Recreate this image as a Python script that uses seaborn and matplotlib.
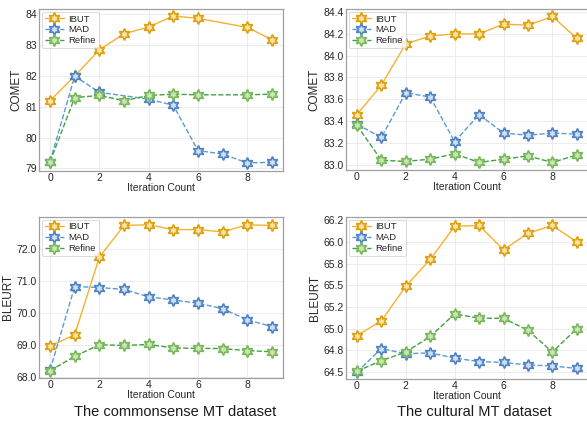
import matplotlib
matplotlib.use("Agg")
import matplotlib.pyplot as plt
import pandas as pd
import seaborn as sns

sns.set_theme(style="whitegrid")
plt.rcParams["font.family"] = ["Liberation Sans", "DejaVu Sans"]

# iteration indices (some series skip a step)
iters_full = [0, 1, 2, 3, 4, 5, 6, 7, 8, 9]
iters_no7 = [0, 1, 2, 3, 4, 5, 6, 8, 9]
iters_no3 = [0, 1, 2, 4, 5, 6, 7, 8, 9]

# commonsense MT - COMET
cs_comet_ibut = [81.2, 82.0, 82.85, 83.37, 83.59, 83.95, 83.87, 83.58, 83.18]
cs_comet_mad = [79.22, 82.0, 81.47, 81.25, 81.05, 79.58, 79.47, 79.18, 79.2]
cs_comet_refine = [79.22, 81.3, 81.37, 81.2, 81.37, 81.41, 81.39, 81.39, 81.41]

# cultural MT - COMET
cu_comet_ibut = [83.46, 83.73, 84.11, 84.18, 84.2, 84.2, 84.29, 84.28, 84.36, 84.16]
cu_comet_mad = [83.37, 83.25, 83.66, 83.62, 83.21, 83.46, 83.29, 83.27, 83.29, 83.28]
cu_comet_refine = [83.36, 83.04, 83.03, 83.05, 83.1, 83.02, 83.05, 83.08, 83.02, 83.09]

# commonsense MT - BLEURT
cs_bleurt_ibut = [68.97, 69.34, 71.76, 72.75, 72.77, 72.62, 72.62, 72.55, 72.77, 72.75]
cs_bleurt_mad = [68.23, 70.84, 70.81, 70.75, 70.52, 70.42, 70.32, 70.15, 69.8, 69.59]
cs_bleurt_refine = [68.21, 68.66, 69.02, 69.0, 69.03, 68.92, 68.91, 68.9, 68.84, 68.8]

# cultural MT - BLEURT
cu_bleurt_ibut = [64.92, 65.09, 65.49, 65.8, 66.18, 66.19, 65.91, 66.1, 66.19, 66.0]
cu_bleurt_mad = [64.5, 64.77, 64.71, 64.72, 64.66, 64.62, 64.61, 64.58, 64.57, 64.54]
cu_bleurt_refine = [64.51, 64.63, 64.73, 64.91, 65.17, 65.12, 65.12, 64.98, 64.73, 65.0]

# y tick positions per panel
cs_comet_ticks = [79, 80, 81, 82, 83, 84]
cu_comet_ticks = [83.0, 83.2, 83.4, 83.6, 83.8, 84.0, 84.2, 84.4]
cs_bleurt_ticks = [68.0, 69.0, 70.0, 71.0, 72.0]
cu_bleurt_ticks = [64.5, 64.75, 65.0, 65.25, 65.5, 65.75, 66.0, 66.25]

methods = ["IBUT", "MAD", "Refine"]
styles = {
    "IBUT": dict(color="#f7b12f", ls="-", mfc="#fde3a7", mec="#dca00e"),
    "MAD": dict(color="#5b9bd5", ls="--", mfc="#cfe0f5", mec="#4f81c4"),
    "Refine": dict(color="#3fa33f", ls="--", mfc="#c9e4b8", mec="#79b85a"),
}
star6 = (6, 1, 0)

panels = [
    ([0.0664, 0.594, 0.4157, 0.385], "COMET",
     [(iters_no7, cs_comet_ibut), (iters_no3, cs_comet_mad), (iters_no7, cs_comet_refine)],
     "%d", cs_comet_ticks, (78.92, 84.18)),
    ([0.5894, 0.596, 0.412, 0.383], "COMET",
     [(iters_full, cu_comet_ibut), (iters_full, cu_comet_mad), (iters_full, cu_comet_refine)],
     "%.1f", cu_comet_ticks, (82.95, 84.43)),
    ([0.0664, 0.102, 0.4157, 0.383], "BLEURT",
     [(iters_full, cs_bleurt_ibut), (iters_full, cs_bleurt_mad), (iters_full, cs_bleurt_refine)],
     "%.1f", cs_bleurt_ticks, (67.98, 73.02)),
    ([0.5894, 0.100, 0.412, 0.385], "BLEURT",
     [(iters_full, cu_bleurt_ibut), (iters_full, cu_bleurt_mad), (iters_full, cu_bleurt_refine)],
     "%.1f", cu_bleurt_ticks, (64.42, 66.29)),
]

fig = plt.figure(figsize=(5.87, 4.21), dpi=100)

for rect, ylabel, series, fmt, yticks, ylim in panels:
    ax = fig.add_axes(rect)
    for name, (xs, ys) in zip(methods, series):
        st = styles[name]
        df = pd.DataFrame({"iter": xs, "score": ys})
        sns.lineplot(data=df, x="iter", y="score", ax=ax, label=name,
                     color=st["color"], linestyle=st["ls"], linewidth=1.0,
                     marker=star6, markersize=8.5, markerfacecolor=st["mfc"],
                     markeredgecolor=st["mec"], markeredgewidth=1.2)
    ax.set_xlabel("Iteration Count", fontsize=7.5, labelpad=0)
    ax.set_ylabel(ylabel, fontsize=8.5, labelpad=2)
    ax.set_xlim(-0.45, 9.45)
    ax.set_xticks([0, 2, 4, 6, 8])
    ax.set_yticks(yticks)
    ax.set_ylim(*ylim)
    ax.yaxis.set_major_formatter(matplotlib.ticker.FormatStrFormatter(fmt))
    ax.tick_params(labelsize=7.5, pad=1.5, length=0)
    ax.grid(color="#ececec", linewidth=0.7)
    for sp in ax.spines.values():
        sp.set_color("#a0a0a0")
        sp.set_linewidth(0.9)
    leg = ax.legend(loc="upper left", fontsize=6.8, frameon=True,
                    handlelength=2.0, handletextpad=0.5, borderpad=0.3,
                    labelspacing=0.2, borderaxespad=0.3)
    leg.get_frame().set_edgecolor("#cccccc")
    leg.get_frame().set_linewidth(0.6)

fig.text(0.298, 0.013, "The commonsense MT dataset", ha="center", fontsize=10.5, color="#1a1a1a")
fig.text(0.808, 0.013, "The cultural MT dataset", ha="center", fontsize=10.5, color="#1a1a1a")

fig.savefig("out.png", dpi=100)
